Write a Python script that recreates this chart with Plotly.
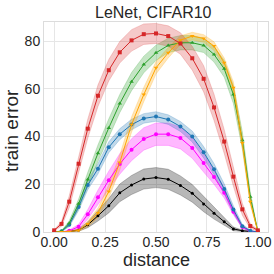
import plotly.graph_objects as go

# x positions (distance) shared by every series
distance = [0.0, 0.036, 0.074, 0.12, 0.165, 0.215, 0.268, 0.322, 0.38, 0.44, 0.5,
            0.56, 0.62, 0.678, 0.734, 0.785, 0.835, 0.88, 0.924, 0.963, 1.0]

red_mean = [0.7, 3.4, 12.7, 28.6, 43.3, 57.1, 67.8, 75.3, 80.3, 82.9, 83.2,
            82.1, 79.0, 72.8, 64.2, 52.2, 37.9, 23.2, 9.5, 2.5, 0.7]
red_std = [0.2, 1.0, 2.5, 3.5, 4.0, 4.5, 4.5, 4.5, 4.5, 4.3, 4.2,
           4.3, 4.5, 5.0, 5.5, 5.5, 5.0, 4.0, 2.5, 1.0, 0.3]

green_mean = [0.0, 0.3, 3.7, 11.8, 22.0, 33.0, 43.6, 53.8, 63.0, 70.2, 75.1,
              78.2, 79.3, 79.3, 78.2, 74.4, 68.4, 57.6, 38.5, 14.8, 0.2]
green_std = [0.0, 0.2, 1.0, 2.0, 3.0, 3.5, 3.8, 3.8, 3.8, 3.5, 3.2,
             3.0, 3.0, 3.0, 3.0, 3.2, 3.5, 3.8, 3.5, 2.0, 0.2]

orange_mean = [0.0, 0.0, 0.2, 0.7, 3.4, 8.0, 17.0, 29.1, 45.0, 57.6, 68.8,
               75.1, 80.4, 82.1, 81.1, 77.9, 70.9, 60.4, 37.3, 12.7, 0.3]
orange_std = [0.0, 0.0, 0.2, 0.5, 1.2, 2.0, 2.8, 3.2, 3.2, 3.0, 2.6,
              2.2, 1.8, 1.6, 1.6, 1.8, 2.0, 2.5, 2.5, 1.5, 0.2]

blue_mean = [0.0, 0.3, 3.0, 10.5, 19.7, 26.5, 35.5, 41.0, 45.0, 47.6, 48.4,
             47.1, 44.2, 40.0, 33.4, 26.3, 18.0, 9.4, 2.4, 0.5, 0.0]
blue_std = [0.0, 0.2, 0.8, 1.5, 2.0, 2.2, 2.3, 2.3, 2.2, 2.0, 2.0,
            2.0, 2.1, 2.3, 2.4, 2.4, 2.2, 1.6, 0.8, 0.3, 0.0]

magenta_mean = [0.0, 0.0, 0.5, 2.2, 7.4, 14.6, 21.7, 28.5, 34.5, 39.0, 41.0,
                41.0, 39.4, 35.2, 28.9, 23.0, 16.5, 8.5, 2.1, 0.3, 0.0]
magenta_std = [0.0, 0.0, 0.3, 1.0, 2.0, 3.0, 3.8, 4.3, 4.6, 4.7, 4.7,
               4.7, 4.6, 4.3, 3.8, 3.0, 2.2, 1.3, 0.6, 0.2, 0.0]

black_mean = [0.0, 0.0, 0.2, 0.8, 3.0, 6.8, 11.0, 16.4, 19.7, 22.2, 22.8,
              22.1, 19.5, 16.2, 11.7, 7.9, 4.3, 1.3, 0.5, 0.1, 0.0]
black_std = [0.0, 0.0, 0.1, 0.5, 1.2, 2.2, 3.0, 3.7, 4.0, 4.2, 4.2,
             4.2, 4.0, 3.7, 3.2, 2.5, 1.6, 0.8, 0.3, 0.1, 0.0]

title_text = "LeNet, CIFAR10"
x_label = "distance"
y_label = "train error"
x_ticks = [0.0, 0.25, 0.5, 0.75, 1.0]
x_tick_text = ["0.00", "0.25", "0.50", "0.75", "1.00"]
y_ticks = [0, 20, 40, 60, 80]

series = [
    (black_mean, black_std, "#000000", "rgba(0,0,0,0.28)", "circle", 3),
    (magenta_mean, magenta_std, "#ff00ff", "rgba(255,0,255,0.28)", "circle", 4),
    (blue_mean, blue_std, "#1f77b4", "rgba(31,119,180,0.28)", "circle", 4),
    (green_mean, green_std, "#2ca02c", "rgba(44,160,44,0.28)", "triangle-up", 4),
    (orange_mean, orange_std, "#ffa500", "rgba(255,165,0,0.28)", "triangle-down", 4),
    (red_mean, red_std, "#d62728", "rgba(214,39,40,0.25)", "square", 4),
]

FONT = "Liberation Sans, Arial, sans-serif"
TXT = "#262626"

fig = go.Figure()
for mean, std, col, fill, sym, ms in series:
    upper = [m + s for m, s in zip(mean, std)]
    lower = [max(m - s, 0) for m, s in zip(mean, std)]
    fig.add_trace(go.Scatter(
        x=distance + distance[::-1], y=upper + lower[::-1],
        fill="toself", fillcolor=fill, line=dict(width=0.8, color=fill),
        mode="lines", hoverinfo="skip", showlegend=False))
for mean, std, col, fill, sym, ms in series:
    fig.add_trace(go.Scatter(
        x=distance, y=mean, mode="lines+markers",
        line=dict(color=col, width=1),
        marker=dict(symbol=sym, size=ms, color=col),
        showlegend=False))

axis_common = dict(
    showgrid=True, gridcolor="#e6e6e6", gridwidth=1,
    showline=True, linecolor="#dcdcdc", linewidth=1, mirror=True,
    zeroline=False, ticks="", automargin=False,
    tickfont=dict(family=FONT, size=14, color=TXT),
)

fig.update_layout(
    width=274, height=274,
    margin=dict(l=44, r=6, t=22, b=42),
    paper_bgcolor="white", plot_bgcolor="white",
    xaxis=dict(range=[-0.05, 1.05], tickvals=x_ticks, ticktext=x_tick_text,
               ticklabelstandoff=-3, **axis_common),
    yaxis=dict(range=[0, 88], tickvals=y_ticks, **axis_common),
    annotations=[
        dict(text=title_text, xref="paper", yref="paper", x=0.487, y=1.044,
             xanchor="center", yanchor="middle", showarrow=False,
             font=dict(family=FONT, size=16, color=TXT)),
        dict(text=x_label, xref="paper", yref="paper", x=0.5, y=-0.132,
             xanchor="center", yanchor="middle", showarrow=False,
             font=dict(family=FONT, size=18, color=TXT)),
        dict(text=y_label, xref="paper", yref="paper", x=-0.143, y=0.486,
             xanchor="center", yanchor="middle", showarrow=False, textangle=-90,
             font=dict(family=FONT, size=19, color=TXT)),
    ],
)

fig.write_html("out.html", config={"displayModeBar": False},
               post_script="document.body.style.margin='0';document.body.style.padding='0';")
